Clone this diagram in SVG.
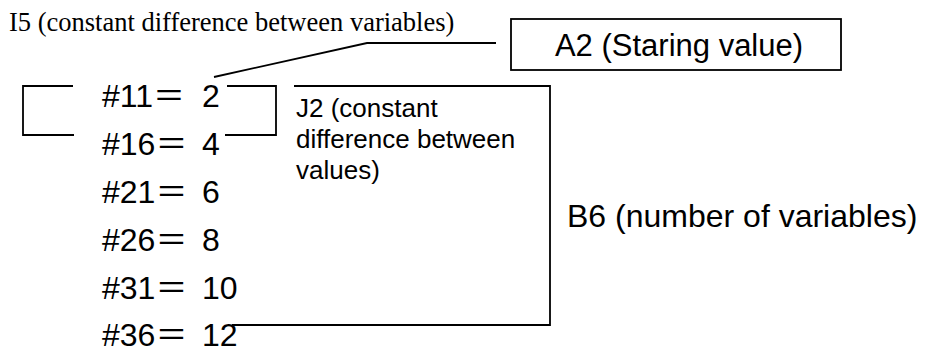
<svg xmlns="http://www.w3.org/2000/svg" width="928" height="352" viewBox="0 0 928 352">
<style>
.ln{fill:none;stroke:#000;stroke-width:1.8}
.box{fill:#fff;stroke:#000;stroke-width:1.8}
.big{font-family:"Liberation Sans",Arial,"Noto Sans CJK JP",sans-serif;font-size:32px;fill:#000}
.a2{font-family:"Liberation Sans",Arial,sans-serif;font-size:31px;fill:#000}
.mid{font-family:"Liberation Sans",Arial,sans-serif;font-size:26px;fill:#000}
.ser{font-family:"Liberation Serif","Times New Roman",serif;font-size:26.5px;fill:#000}
</style>
<rect width="928" height="352" fill="#fff"/>
<g id="connectors">
<path class="ln" d="M214,77 L367,43 H496"/>
<path class="ln" d="M73,86 H23 V135 H74"/>
<path class="ln" d="M227,86 H276 V135 H225"/>
<path class="ln" d="M294,86 H550 V325 H232"/>
</g>
<g id="I5">
<text class="ser" x="9" y="31">I5 (constant difference between variables)</text>
</g>
<g id="A2">
<rect class="box" x="511" y="19" width="330" height="51"/>
<text class="a2" x="679" y="56" text-anchor="middle">A2 (Staring value)</text>
</g>
<g id="J2">
<text class="mid" x="296" y="117">J2 (constant</text>
<text class="mid" x="296" y="148">difference between</text>
<text class="mid" x="296" y="179">values)</text>
</g>
<g id="B6">
<text class="big" x="567" y="227">B6 (number of variables)</text>
</g>
<g id="rows">
<g id="r11"><text class="big" x="102" y="107">#11＝</text><text class="big" x="202" y="107">2</text></g>
<g id="r16"><text class="big" x="102" y="155">#16＝</text><text class="big" x="202" y="155">4</text></g>
<g id="r21"><text class="big" x="102" y="203">#21＝</text><text class="big" x="202" y="203">6</text></g>
<g id="r26"><text class="big" x="102" y="251">#26＝</text><text class="big" x="202" y="251">8</text></g>
<g id="r31"><text class="big" x="102" y="299">#31＝</text><text class="big" x="202" y="299">10</text></g>
<g id="r36"><text class="big" x="102" y="346">#36＝</text><text class="big" x="202" y="346">12</text></g>
</g>
</svg>
